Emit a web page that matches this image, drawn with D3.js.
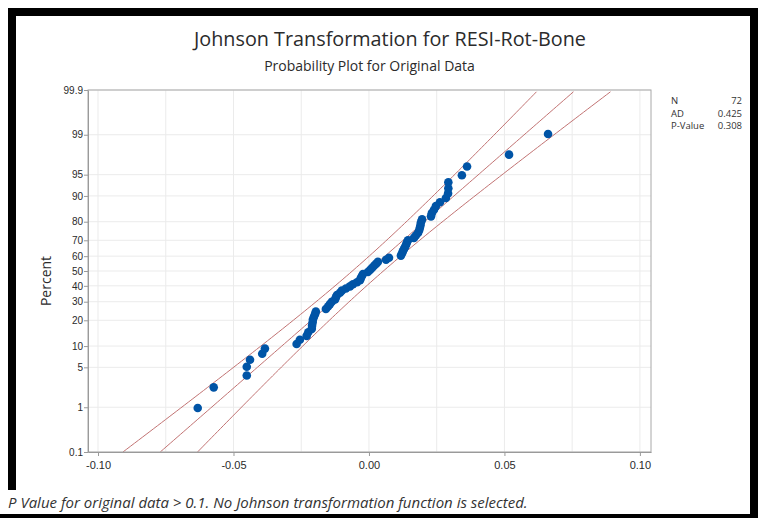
<!DOCTYPE html>
<html>
<head>
<meta charset="utf-8">
<script src="https://cdn.jsdelivr.net/npm/d3@7"></script>
<style>
  body { margin: 0; background: #fff; }
  svg { display: block; font-family: 'Open Sans', 'Noto Sans', sans-serif; }
  .axis text { fill: #2a2a2a; }
  .axis path, .axis line { stroke: #9a9a9a; }
</style>
</head>
<body>
<div id="chart-area"></div>
<script>
'use strict';
const svg_width = 758;
const svg_height = 518;
const plot = {left: 88, right: 651, top: 90, bottom: 452};

// sorted residuals (72 points)
const residuals = [
  -0.0632, -0.0573, -0.0451, -0.0451, -0.0439, -0.0394, -0.0384, -0.0267,
  -0.0255, -0.0230, -0.0224, -0.0211, -0.0210, -0.0208, -0.0207, -0.0203,
  -0.0199, -0.0196, -0.0159, -0.0151, -0.0144, -0.0137, -0.0125, -0.0122,
  -0.0118, -0.0107, -0.0100, -0.0085, -0.0070, -0.0059, -0.0044, -0.0033,
  -0.0030, -0.0026, -0.0022, -0.0004, 0.0004, 0.0011, 0.0018, 0.0026,
  0.0033, 0.0063, 0.0074, 0.0118, 0.0122, 0.0125, 0.0129, 0.0133,
  0.0137, 0.0140, 0.0144, 0.0166, 0.0173, 0.0181, 0.0185, 0.0188,
  0.0190, 0.0192, 0.0196, 0.0229, 0.0232, 0.0240, 0.0247, 0.0262,
  0.0284, 0.0292, 0.0293, 0.0293, 0.0343, 0.0362, 0.0517, 0.0661
];
// normal fit shown by the red lines
const fit_mean = -0.0004;
const fit_sd = 0.0248;

const percent_ticks = [0.1, 1, 5, 10, 20, 30, 40, 50, 60, 70, 80, 90, 95, 99, 99.9];
const x_ticks = [-0.10, -0.05, 0.00, 0.05, 0.10];
const x_grid = [-0.10, -0.075, -0.05, -0.025, 0, 0.025, 0.05, 0.075, 0.10];
const stats_labels = ['N', 'AD', 'P-Value'];
const stats_values = ['72', '0.425', '0.308'];

// inverse standard normal (Acklam)
const qnorm = (p) => {
  const a = [-39.69683028665376, 220.9460984245205, -275.9285104469687, 138.357751867269, -30.66479806614716, 2.506628277459239];
  const b = [-54.47609879822406, 161.5858368580409, -155.6989798598866, 66.80131188771972, -13.28068155288572];
  const c = [-0.007784894002430293, -0.3223964580411365, -2.400758277161838, -2.549732539343734, 4.374664141464968, 2.938163982698783];
  const d = [0.007784695709041462, 0.3224671290700398, 2.445134137142996, 3.754408661907416];
  const pl = 0.02425;
  let q, r;
  if (p < pl) {
    q = Math.sqrt(-2 * Math.log(p));
    return (((((c[0]*q+c[1])*q+c[2])*q+c[3])*q+c[4])*q+c[5]) / ((((d[0]*q+d[1])*q+d[2])*q+d[3])*q+1);
  } else if (p <= 1 - pl) {
    q = p - 0.5; r = q * q;
    return (((((a[0]*r+a[1])*r+a[2])*r+a[3])*r+a[4])*r+a[5])*q / (((((b[0]*r+b[1])*r+b[2])*r+b[3])*r+b[4])*r+1);
  }
  q = Math.sqrt(-2 * Math.log(1 - p));
  return -(((((c[0]*q+c[1])*q+c[2])*q+c[3])*q+c[4])*q+c[5]) / ((((d[0]*q+d[1])*q+d[2])*q+d[3])*q+1);
};

const n = residuals.length;
// median rank plotting positions
const points = residuals.map((v, i) => ({x: v, z: qnorm((i + 1 - 0.3) / (n + 0.4))}));

const svg = d3.select('#chart-area')
  .append('svg')
    .attr('width', svg_width)
    .attr('height', svg_height);

// screenshot frame
svg.append('rect').attr('x', 8).attr('y', 8).attr('width', 750).attr('height', 8).attr('fill', '#000');
svg.append('rect').attr('x', 8).attr('y', 8).attr('width', 8).attr('height', 482).attr('fill', '#000');
svg.append('rect').attr('x', 750).attr('y', 8).attr('width', 8).attr('height', 510).attr('fill', '#000');
svg.append('rect').attr('x', 0).attr('y', 514).attr('width', 758).attr('height', 4).attr('fill', '#000');

const x_scale = d3.scaleLinear()
  .domain([-0.1037, 0.1041])
  .range([plot.left, plot.right]);

const z_top = qnorm(0.999);
const y_scale = d3.scaleLinear()
  .domain([-z_top, z_top])
  .range([plot.bottom, plot.top]);

// grid
svg.append('g').selectAll('line').data(percent_ticks).enter()
  .append('line')
    .attr('x1', plot.left).attr('x2', plot.right)
    .attr('y1', d => y_scale(qnorm(d / 100))).attr('y2', d => y_scale(qnorm(d / 100)))
    .attr('stroke', '#ebebeb');
svg.append('g').selectAll('line').data(x_grid).enter()
  .append('line')
    .attr('x1', d => x_scale(d)).attr('x2', d => x_scale(d))
    .attr('y1', plot.top).attr('y2', plot.bottom)
    .attr('stroke', '#ebebeb');

// fitted line and 95% confidence band
svg.append('clipPath').attr('id', 'clip')
  .append('rect')
    .attr('x', plot.left).attr('y', plot.top)
    .attr('width', plot.right - plot.left).attr('height', plot.bottom - plot.top);

const z_steps = d3.range(-z_top, z_top + 0.001, 0.05);
const se = fit_sd / Math.sqrt(n);
const band = [-1, 0, 1];
const line = d3.line().x(d => x_scale(d[0])).y(d => y_scale(d[1]));
svg.append('g').attr('clip-path', 'url(#clip)')
  .selectAll('path').data(band).enter()
  .append('path')
    .attr('d', s => line(z_steps.map(z =>
      [fit_mean + z * fit_sd + s * 1.96 * se * Math.sqrt(1 + z * z / 2), z])))
    .attr('fill', 'none')
    .attr('stroke', '#c27373')
    .attr('stroke-width', 1);

// points
svg.append('g').selectAll('circle').data(points).enter()
  .append('circle')
    .attr('cx', d => x_scale(d.x))
    .attr('cy', d => y_scale(d.z))
    .attr('r', 4.3)
    .attr('fill', '#0054a6');

// frame
svg.append('rect')
  .attr('x', plot.left).attr('y', plot.top)
  .attr('width', plot.right - plot.left).attr('height', plot.bottom - plot.top)
  .attr('fill', 'none').attr('stroke', '#a8a8a8');

const x_axis = d3.axisBottom(x_scale)
  .tickValues(x_ticks).tickSize(4).tickSizeOuter(0)
  .tickFormat(d => d.toFixed(2));
const y_axis = d3.axisLeft(y_scale)
  .tickValues(percent_ticks.map(p => qnorm(p / 100))).tickSize(4).tickSizeOuter(0)
  .tickFormat((d, i) => percent_ticks[i]);

svg.append('g')
  .attr('class', 'axis')
  .attr('transform', `translate(0,${plot.bottom})`)
  .call(x_axis)
  .call(g => g.selectAll('text').attr('dy', '0.95em').style('font-size', '11px'));

svg.append('g')
  .attr('class', 'axis')
  .attr('transform', `translate(${plot.left},0)`)
  .call(y_axis)
  .call(g => g.selectAll('text').attr('x', -5).style('font-size', '10px'));

// titles
svg.append('text')
  .attr('x', 390).attr('y', 46)
  .attr('text-anchor', 'middle')
  .attr('fill', '#2b2b2b').style('font-size', '19.8px')
  .text('Johnson Transformation for RESI-Rot-Bone');
svg.append('text')
  .attr('x', 369.5).attr('y', 71)
  .attr('text-anchor', 'middle')
  .attr('fill', '#2b2b2b').style('font-size', '14px')
  .text('Probability Plot for Original Data');
svg.append('text')
  .attr('transform', `translate(51,${(plot.top + plot.bottom) / 2 + 10}) rotate(-90)`)
  .attr('text-anchor', 'middle')
  .attr('fill', '#2b2b2b').style('font-size', '14px')
  .text('Percent');

// stats table
stats_labels.forEach((s, i) => {
  svg.append('text').attr('x', 671).attr('y', 104 + i * 12.5)
    .attr('fill', '#333').style('font-size', '9.5px').text(s);
  svg.append('text').attr('x', 742).attr('y', 104 + i * 12.5)
    .attr('text-anchor', 'end')
    .attr('fill', '#333').style('font-size', '9.5px').text(stats_values[i]);
});

// footnote
svg.append('text')
  .attr('x', 8).attr('y', 508)
  .attr('fill', '#333').style('font-size', '15px').style('font-style', 'italic')
  .text('P Value for original data > 0.1. No Johnson transformation function is selected.');
</script>
</body>
</html>
